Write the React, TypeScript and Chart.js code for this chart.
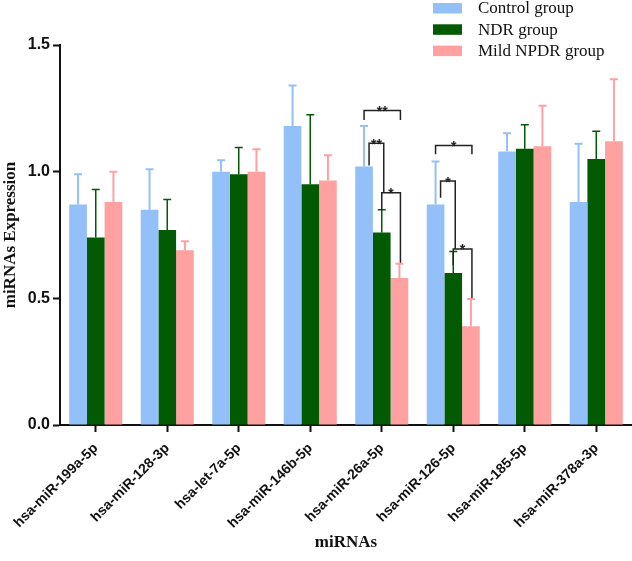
import React, { useEffect, useRef } from 'react';
import { Chart, registerables } from 'chart.js';

Chart.register(...registerables);

// ---------- data ----------
const categories = [
  'hsa-miR-199a-5p',
  'hsa-miR-128-3p',
  'hsa-let-7a-5p',
  'hsa-miR-146b-5p',
  'hsa-miR-26a-5p',
  'hsa-miR-126-5p',
  'hsa-miR-185-5p',
  'hsa-miR-378a-3p',
];
const seriesLabels = ['Control group', 'NDR group', 'Mild NPDR group'];

const controlMeans = [0.87, 0.85, 1.0, 1.18, 1.02, 0.87, 1.08, 0.88];
const controlErrors = [0.12, 0.16, 0.045, 0.16, 0.16, 0.17, 0.072, 0.23];
const ndrMeans = [0.74, 0.77, 0.99, 0.95, 0.76, 0.6, 1.09, 1.05];
const ndrErrors = [0.19, 0.12, 0.105, 0.275, 0.09, 0.085, 0.095, 0.11];
const npdrMeans = [0.88, 0.69, 1.0, 0.965, 0.58, 0.39, 1.1, 1.12];
const npdrErrors = [0.12, 0.035, 0.088, 0.1, 0.057, 0.107, 0.16, 0.245];

const yTicks = [0, 0.5, 1.0, 1.5];

// significance brackets
const bracketGroups = [4, 4, 4, 5, 5, 5];
const bracketFrom = [0, 0, 1, 0, 0, 1];
const bracketTo = [2, 1, 2, 2, 1, 2];
const bracketLevels = [1.241, 1.112, 0.917, 1.103, 0.963, 0.695];
const bracketLeftEnds = [1.204, 1.024, 0.849, 1.069, 0.897, 0.632];
const bracketRightEnds = [1.204, 0.917, 0.64, 1.069, 0.695, 0.501];
const bracketLabels = ['**', '**', '*', '*', '*', '*'];

// ---------- styles ----------
const COLORS = ['#93C0F8', '#025A02', '#FFA1A1'];
const SERIF = '"Liberation Serif", "Times New Roman", serif';
const SANS = '"Liberation Sans", Arial, sans-serif';

const errorBarsPlugin = {
  id: 'errorBars',
  afterDatasetsDraw(chart: any) {
    const { ctx } = chart;
    const yScale = chart.scales.y;
    chart.data.datasets.forEach((ds: any, i: number) => {
      const meta = chart.getDatasetMeta(i);
      ctx.save();
      ctx.strokeStyle = ds.backgroundColor;
      ctx.lineWidth = i === 1 ? 1.5 : 2;
      meta.data.forEach((el: any, j: number) => {
        const v = ds.data[j] + ds.errors[j];
        const yTop = yScale.getPixelForValue(v);
        ctx.beginPath();
        ctx.moveTo(el.x, el.y);
        ctx.lineTo(el.x, yTop);
        ctx.moveTo(el.x - 4, yTop);
        ctx.lineTo(el.x + 4, yTop);
        ctx.stroke();
      });
      ctx.restore();
    });
  },
};

const bracketsPlugin = {
  id: 'brackets',
  afterDatasetsDraw(chart: any) {
    const { ctx } = chart;
    const yScale = chart.scales.y;
    ctx.save();
    ctx.strokeStyle = '#222';
    ctx.lineWidth = 1.5;
    bracketGroups.forEach((g, k) => {
      const a = chart.getDatasetMeta(bracketFrom[k]).data[g];
      const b = chart.getDatasetMeta(bracketTo[k]).data[g];
      const nudge = bracketFrom[k] === 0 && bracketTo[k] === 1 ? 5 : 0;
      const x1 = a.x + nudge;
      const x2 = b.x + (bracketTo[k] === 1 ? 2 : 1);
      const y = yScale.getPixelForValue(bracketLevels[k]);
      const yl = yScale.getPixelForValue(bracketLeftEnds[k]);
      const yr = yScale.getPixelForValue(bracketRightEnds[k]);
      ctx.beginPath();
      ctx.moveTo(x1, yl);
      ctx.lineTo(x1, y);
      ctx.lineTo(x2, y);
      ctx.lineTo(x2, yr);
      ctx.stroke();
      ctx.fillStyle = '#222';
      ctx.font = `bold 14px ${SANS}`;
      ctx.textAlign = 'center';
      ctx.textBaseline = 'alphabetic';
      ctx.fillText(bracketLabels[k], (x1 + x2) / 2, y + 5.5);
    });
    ctx.restore();
  },
};

const legendPlugin = {
  id: 'customLegend',
  afterDraw(chart: any) {
    const { ctx } = chart;
    ctx.save();
    chart.data.datasets.forEach((ds: any, i: number) => {
      const cy = 8 + i * 21.3;
      ctx.fillStyle = ds.backgroundColor;
      ctx.fillRect(433, cy - 5, 29, 10.5);
      ctx.fillStyle = '#111';
      ctx.font = `17px ${SERIF}`;
      ctx.textAlign = 'left';
      ctx.textBaseline = 'middle';
      ctx.fillText(ds.label, 478, cy + 1);
    });
    ctx.restore();
  },
};

export default function App() {
  const canvasRef = useRef<HTMLCanvasElement | null>(null);

  useEffect(() => {
    document.body.style.margin = '0';
    const canvas = canvasRef.current;
    if (!canvas) return;
    const means = [controlMeans, ndrMeans, npdrMeans];
    const errs = [controlErrors, ndrErrors, npdrErrors];
    const chart = new Chart(canvas, {
      type: 'bar',
      data: {
        labels: categories,
        datasets: seriesLabels.map((label, i) => ({
          label,
          data: means[i],
          errors: errs[i],
          backgroundColor: COLORS[i],
          borderWidth: 0,
          categoryPercentage: 0.742,
          barPercentage: 1.0,
        })) as any,
      },
      options: {
        responsive: false,
        animation: false,
        devicePixelRatio: 1,
        layout: { padding: { top: 45, right: 0, left: 0, bottom: 0 } },
        plugins: {
          legend: { display: false },
          tooltip: { enabled: false },
        },
        scales: {
          x: {
            type: 'category',
            offset: true,
            grid: {
              offset: false,
              drawOnChartArea: false,
              drawTicks: true,
              tickLength: 7,
              tickWidth: 2,
              tickColor: '#111',
            },
            border: { display: true, color: '#111', width: 2 },
            ticks: {
              minRotation: 45,
              maxRotation: 45,
              autoSkip: false,
              padding: 8,
              color: '#111',
              font: { family: SANS, size: 14, weight: 'bold' },
            },
            title: {
              display: true,
              text: 'miRNAs',
              color: '#111',
              font: { family: SERIF, size: 17, weight: 'bold' },
              padding: { top: 0, bottom: 8 },
            },
            afterFit(scale: any) {
              scale.height = 136;
            },
          },
          y: {
            min: 0,
            max: 1.5,
            afterBuildTicks(scale: any) {
              scale.ticks = yTicks.map((v) => ({ value: v }));
            },
            grid: {
              drawOnChartArea: false,
              drawTicks: true,
              tickLength: 7,
              tickWidth: 2,
              tickColor: '#111',
            },
            border: { display: true, color: '#111', width: 2 },
            ticks: {
              padding: 3,
              color: '#111',
              font: { family: SANS, size: 16, weight: 'bold' },
              callback: (v: any) => Number(v).toFixed(1),
            },
            title: {
              display: true,
              text: 'miRNAs Expression',
              color: '#111',
              font: { family: SERIF, size: 17, weight: 'bold' },
              padding: { top: 0, bottom: 0 },
            },
            afterFit(scale: any) {
              scale.width = 60;
            },
          },
        },
      } as any,
      plugins: [errorBarsPlugin, bracketsPlugin, legendPlugin],
    });
    return () => chart.destroy();
  }, []);

  return (
    <div style={{ width: 632, height: 561 }}>
      <canvas ref={canvasRef} width={632} height={561} style={{ display: 'block' }} />
    </div>
  );
}
